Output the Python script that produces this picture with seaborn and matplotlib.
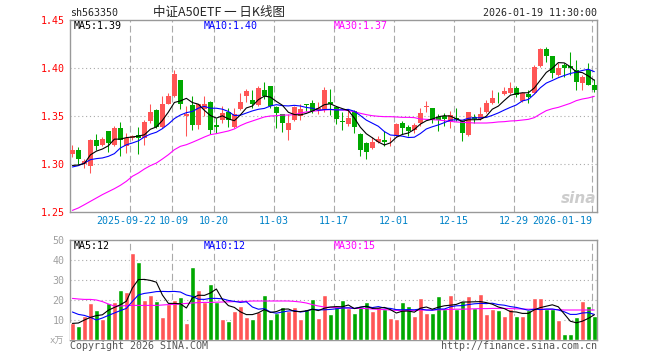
import numpy as np
import pandas as pd
import matplotlib
matplotlib.use("Agg")
import matplotlib.pyplot as plt
import matplotlib.transforms as mtrans
import seaborn as sns

W, H = 660, 360

RED = "#ff5555"
GREEN = "#00a800"
GRID = "#aaaaaa"
FRAME = "#999999"
TICK_BLUE = "#0082c8"
MA_COLORS = ["black", "#0000ff", "#ff00ff"]

# daily K-line, values
open_ = [1.310, 1.315, 1.300, 1.298, 1.325, 1.320, 1.334, 1.320, 1.3375, 1.319,
         1.327, 1.330, 1.327, 1.345, 1.3565, 1.339, 1.363, 1.3705, 1.387, 1.350,
         1.361, 1.341, 1.357, 1.3645, 1.341, 1.3455, 1.354, 1.3385, 1.357, 1.371,
         1.367, 1.361, 1.377, 1.381, 1.359, 1.3525, 1.335, 1.346, 1.3503, 1.3625,
         1.364, 1.355, 1.3566, 1.365, 1.3594, 1.345, 1.342, 1.355, 1.3316, 1.322,
         1.3167, 1.3226, 1.3247, 1.325, 1.329, 1.343, 1.3385, 1.3358, 1.3424, 1.359,
         1.358, 1.3493, 1.350, 1.3441, 1.3476, 1.345, 1.3302, 1.3493, 1.3465, 1.3545,
         1.3632, 1.3712, 1.3729, 1.3736, 1.3788, 1.366, 1.3729, 1.3743, 1.4021, 1.4194,
         1.4125, 1.3927, 1.4031, 1.4021, 1.3979, 1.384, 1.3979, 1.3823]
high = [1.320, 1.318, 1.305, 1.326, 1.331, 1.328, 1.334, 1.340, 1.344, 1.332,
        1.330, 1.339, 1.346, 1.363, 1.357, 1.371, 1.374, 1.398, 1.387, 1.360,
        1.3705, 1.362, 1.371, 1.366, 1.348, 1.360, 1.358, 1.358, 1.374, 1.378,
        1.377, 1.381, 1.385, 1.381, 1.360, 1.3525, 1.3525, 1.360, 1.362, 1.363,
        1.367, 1.365, 1.380, 1.378, 1.360, 1.354, 1.356, 1.356, 1.332, 1.3226,
        1.328, 1.329, 1.3347, 1.328, 1.3427, 1.3444, 1.341, 1.343, 1.358, 1.366,
        1.358, 1.352, 1.3528, 1.3555, 1.358, 1.345, 1.3545, 1.352, 1.3597, 1.3667,
        1.377, 1.3753, 1.3806, 1.3858, 1.3813, 1.3753, 1.377, 1.4031, 1.4205, 1.4215,
        1.4125, 1.4049, 1.4049, 1.417, 1.4083, 1.3927, 1.4049, 1.3882]
low = [1.307, 1.300, 1.296, 1.291, 1.315, 1.319, 1.313, 1.319, 1.308, 1.311,
       1.325, 1.310, 1.320, 1.343, 1.338, 1.338, 1.362, 1.370, 1.357, 1.3295,
       1.335, 1.336, 1.350, 1.3316, 1.332, 1.343, 1.339, 1.337, 1.356, 1.365,
       1.358, 1.360, 1.368, 1.358, 1.338, 1.333, 1.3247, 1.345, 1.346, 1.355,
       1.3535, 1.352, 1.354, 1.3507, 1.3413, 1.335, 1.340, 1.3323, 1.3087, 1.3052,
       1.316, 1.322, 1.319, 1.319, 1.328, 1.3316, 1.3295, 1.332, 1.3396, 1.3545,
       1.3424, 1.3347, 1.3396, 1.338, 1.345, 1.3243, 1.3292, 1.343, 1.3458, 1.3535,
       1.3625, 1.3639, 1.3719, 1.3729, 1.3694, 1.3649, 1.3632, 1.3736, 1.4014, 1.4066,
       1.3892, 1.3917, 1.391, 1.3927, 1.377, 1.377, 1.3819, 1.3753]
close = [1.315, 1.305, 1.303, 1.325, 1.319, 1.326, 1.322, 1.3375, 1.325, 1.327,
         1.329, 1.327, 1.344, 1.354, 1.339, 1.363, 1.3705, 1.394, 1.362, 1.3525,
         1.341, 1.362, 1.362, 1.335, 1.339, 1.353, 1.346, 1.3525, 1.365, 1.3757,
         1.363, 1.379, 1.371, 1.360, 1.353, 1.343, 1.3427, 1.359, 1.3576, 1.361,
         1.355, 1.358, 1.3774, 1.362, 1.347, 1.344, 1.348, 1.3385, 1.3142, 1.313,
         1.3226, 1.3264, 1.3226, 1.3255, 1.342, 1.3375, 1.334, 1.341, 1.3528, 1.3604,
         1.3458, 1.3458, 1.3465, 1.351, 1.3465, 1.332, 1.3545, 1.3465, 1.352, 1.3639,
         1.3684, 1.3705, 1.3764, 1.3788, 1.3719, 1.3736, 1.3701, 1.4014, 1.4194, 1.4125,
         1.3951, 1.3997, 1.3997, 1.3997, 1.3858, 1.391, 1.3823, 1.3771]

ma5 = [1.2985, 1.2990, 1.3005, 1.3095, 1.3134, 1.3156, 1.3190, 1.3259, 1.3259, 1.3275,
       1.3281, 1.3291, 1.3304, 1.3362, 1.3386, 1.3454, 1.3541, 1.3641, 1.3657, 1.3684,
       1.3640, 1.3623, 1.3559, 1.3505, 1.3478, 1.3502, 1.3470, 1.3451, 1.3511, 1.3584,
       1.3604, 1.3670, 1.3707, 1.3697, 1.3652, 1.3612, 1.3539, 1.3515, 1.3511, 1.3527,
       1.3551, 1.3581, 1.3618, 1.3627, 1.3599, 1.3577, 1.3557, 1.3479, 1.3383, 1.3315,
       1.3273, 1.3229, 1.3198, 1.3220, 1.3278, 1.3308, 1.3323, 1.3360, 1.3415, 1.3451,
       1.3468, 1.3492, 1.3503, 1.3499, 1.3471, 1.3444, 1.3461, 1.3461, 1.3463, 1.3498,
       1.3571, 1.3603, 1.3662, 1.3716, 1.3732, 1.3742, 1.3742, 1.3792, 1.3873, 1.3954,
       1.3997, 1.4056, 1.4053, 1.4013, 1.3960, 1.3952, 1.3917, 1.3872]
ma10 = [1.2969, 1.2983, 1.3010, 1.3045, 1.3056, 1.3063, 1.3080, 1.3108, 1.3167, 1.3200,
        1.3219, 1.3241, 1.3282, 1.3311, 1.3331, 1.3368, 1.3416, 1.3473, 1.3510, 1.3535,
        1.3547, 1.3582, 1.3600, 1.3581, 1.3581, 1.3571, 1.3547, 1.3505, 1.3508, 1.3531,
        1.3553, 1.3570, 1.3579, 1.3604, 1.3618, 1.3608, 1.3605, 1.3611, 1.3604, 1.3589,
        1.3581, 1.3560, 1.3567, 1.3569, 1.3563, 1.3564, 1.3569, 1.3549, 1.3505, 1.3457,
        1.3425, 1.3393, 1.3338, 1.3302, 1.3297, 1.3290, 1.3276, 1.3279, 1.3317, 1.3365,
        1.3388, 1.3407, 1.3431, 1.3457, 1.3461, 1.3456, 1.3476, 1.3482, 1.3481, 1.3485,
        1.3507, 1.3532, 1.3562, 1.3590, 1.3615, 1.3657, 1.3672, 1.3727, 1.3794, 1.3843,
        1.3870, 1.3899, 1.3922, 1.3943, 1.3957, 1.3974, 1.3987, 1.3962]
ma30 = [1.2517, 1.2542, 1.2576, 1.2611, 1.2646, 1.2681, 1.2712, 1.2743, 1.2778, 1.2820,
        1.2872, 1.2906, 1.2948, 1.2983, 1.3010, 1.3052, 1.3097, 1.3149, 1.3184, 1.3201,
        1.3226, 1.3253, 1.3281, 1.3306, 1.3316, 1.3330, 1.3344, 1.3365, 1.3400, 1.3427,
        1.3448, 1.3469, 1.3490, 1.3500, 1.3503, 1.3510, 1.3510, 1.3514, 1.3531, 1.3542,
        1.3549, 1.3556, 1.3563, 1.3566, 1.3566, 1.3563, 1.3556, 1.3545, 1.3528, 1.3514,
        1.3503, 1.3497, 1.3493, 1.3493, 1.3490, 1.3486, 1.3486, 1.3483, 1.3469, 1.3465,
        1.3462, 1.3458, 1.3451, 1.3444, 1.3438, 1.3434, 1.3431, 1.3427, 1.3427, 1.3427,
        1.3431, 1.3438, 1.3441, 1.3448, 1.3451, 1.3458, 1.3465, 1.3483, 1.3521, 1.3556,
        1.3576, 1.3590, 1.3611, 1.3632, 1.3660, 1.3677, 1.3688, 1.3705]

# volume (万)
volume = [8.3, 7.0, 12.0, 18.7, 15.0, 10.5, 18.3, 19.2, 25.0, 24.0,
          43.7, 39.0, 20.0, 22.5, 19.5, 11.7, 17.8, 20.0, 21.7, 8.7,
          36.7, 25.0, 19.2, 28.0, 18.8, 10.5, 9.5, 14.5, 17.2, 11.7,
          10.5, 14.0, 22.5, 10.5, 13.3, 16.5, 14.5, 16.5, 10.3, 15.3,
          20.5, 11.0, 22.5, 13.0, 16.3, 20.0, 15.8, 13.5, 16.3, 19.0,
          14.5, 16.3, 15.3, 11.0, 10.3, 19.0, 17.0, 12.0, 21.0, 13.5,
          13.5, 22.0, 15.3, 22.5, 15.5, 19.5, 22.0, 15.8, 23.0, 13.0,
          15.5, 15.0, 12.0, 15.5, 12.0, 12.0, 15.0, 21.0, 21.0, 15.5,
          15.5, 10.0, 3.0, 3.0, 11.5, 19.5, 17.0, 12.0]
vma5 = [8.3, 8.5, 10.0, 11.3, 12.2, 12.6, 14.9, 16.3, 17.6, 19.4,
        26.0, 30.2, 30.3, 29.8, 28.9, 22.5, 18.3, 18.3, 18.1, 16.0,
        21.0, 22.4, 22.3, 23.5, 25.5, 20.3, 17.2, 16.3, 14.1, 12.7,
        12.7, 13.6, 15.2, 13.8, 14.2, 15.4, 15.5, 14.3, 14.2, 14.6,
        15.4, 14.7, 15.9, 16.5, 16.7, 16.6, 17.5, 15.7, 16.4, 16.9,
        15.8, 15.9, 16.3, 15.2, 13.5, 14.4, 14.5, 13.9, 15.9, 16.5,
        15.4, 16.4, 17.1, 17.4, 17.8, 19.0, 19.0, 19.1, 19.2, 18.7,
        17.9, 16.5, 15.7, 14.2, 14.0, 13.3, 13.3, 15.1, 16.2, 16.9,
        17.6, 16.6, 13.0, 9.4, 8.6, 9.4, 10.8, 12.6]
vma10 = [14.0, 12.8, 12.3, 11.3, 10.0, 11.0, 12.3, 13.5, 14.7, 15.8,
         19.3, 22.5, 23.3, 23.7, 24.2, 24.3, 24.2, 24.3, 24.0, 22.5,
         21.8, 20.4, 20.3, 20.8, 20.8, 20.6, 19.8, 19.3, 18.8, 19.1,
         16.5, 15.4, 15.7, 14.0, 13.4, 14.0, 14.5, 14.7, 14.0, 14.4,
         15.4, 15.1, 15.1, 15.3, 15.6, 16.0, 16.1, 15.8, 16.4, 16.8,
         16.2, 16.7, 16.0, 15.8, 15.2, 15.1, 15.2, 15.1, 15.5, 15.0,
         14.9, 15.5, 15.5, 16.6, 17.1, 17.2, 17.7, 18.1, 18.3, 18.2,
         18.4, 17.7, 17.4, 16.7, 16.3, 15.6, 14.9, 15.4, 15.2, 15.5,
         15.5, 15.0, 14.1, 12.8, 12.8, 13.5, 13.7, 12.8]
vma30 = [20.8, 20.5, 20.3, 20.3, 20.0, 19.2, 18.0, 17.0, 17.0, 17.2,
         17.3, 17.3, 17.3, 17.3, 17.3, 17.5, 17.7, 17.8, 18.0, 18.3,
         18.5, 18.7, 18.8, 18.8, 18.9, 19.0, 19.1, 19.2, 19.3, 19.3,
         19.5, 19.5, 19.5, 19.5, 19.5, 19.5, 19.5, 19.3, 19.0, 18.5,
         17.7, 17.0, 16.5, 16.3, 16.2, 16.0, 16.0, 15.8, 15.8, 15.7,
         15.5, 15.3, 15.2, 15.0, 14.8, 14.7, 14.7, 14.7, 15.0, 15.0,
         15.0, 15.1, 15.2, 15.3, 15.4, 15.4, 15.5, 15.6, 15.7, 15.7,
         15.8, 15.8, 15.8, 15.7, 15.6, 15.5, 15.4, 15.4, 15.3, 15.3,
         15.3, 15.2, 15.0, 15.0, 15.0, 15.0, 15.0, 15.0]

tick_idx = [10, 17, 24, 34, 44, 54, 64, 74, 87]
tick_labels = ["2025-09-22", "10-09", "10-20", "11-03", "11-17",
               "12-01", "12-15", "12-29", "2026-01-19"]
price_ticks = [1.25, 1.30, 1.35, 1.40, 1.45]
vol_ticks = [10, 20, 30, 40, 50]
price_ma_text = ["MA5:1.39", "MA10:1.40", "MA30:1.37"]
vol_ma_text = ["MA5:12", "MA10:12", "MA30:15"]

sns.set_style("white")
plt.rcParams["font.family"] = ["DejaVu Sans Mono", "Noto Sans CJK SC"]
FS = 7.2

fig = plt.figure(figsize=(W / 100, H / 100), dpi=100)


def box(l, t, r, b):
    return [l / W, 1 - b / H, (r - l) / W, (b - t) / H]


def fpos(x, y):
    return x / W, 1 - y / H


ax = fig.add_axes(box(70, 20, 597, 212))
axv = fig.add_axes(box(70, 240, 597, 340))

idx = np.arange(len(close))
up = np.array(close) >= np.array(open_)
colors = np.where(up, RED, GREEN)

# --- price panel ---
ax.vlines(idx, low, high, colors=colors, lw=0.75, zorder=3)
body_lo = np.minimum(open_, close)
body_h = np.maximum(np.abs(np.array(close) - np.array(open_)), 0.0004)
ax.bar(idx, body_h, bottom=body_lo, width=0.8, color=colors, lw=0, zorder=4)

pdf = pd.DataFrame({"i": idx, "ma5": ma5, "ma10": ma10, "ma30": ma30})
for col, c in zip(["ma30", "ma10", "ma5"], MA_COLORS[::-1]):
    sns.lineplot(data=pdf, x="i", y=col, ax=ax, color=c, lw=0.8, zorder=5)

# --- volume panel ---
vdf = pd.DataFrame({"i": idx, "vol": volume,
                    "dir": np.where(up, "up", "down"),
                    "vma5": vma5, "vma10": vma10, "vma30": vma30})
sns.barplot(data=vdf, x="i", y="vol", hue="dir", palette={"up": RED, "down": GREEN},
            dodge=False, width=0.8, saturation=1, legend=False, ax=axv, zorder=3)
for col, c in zip(["vma30", "vma10", "vma5"], MA_COLORS[::-1]):
    sns.lineplot(data=vdf, x="i", y=col, ax=axv, color=c, lw=0.8, zorder=5)

for a in (ax, axv):
    a.set_xlim(-0.4, 87.45)
    a.set_xticks([])
    a.set_xlabel("")
    a.set_ylabel("")
    for t in tick_idx:
        a.axvline(t - 0.4, color=GRID, lw=0.8, ls=(0, (6, 3)), zorder=1)
    for s in a.spines.values():
        s.set_color(FRAME)
        s.set_linewidth(1.0)
    a.tick_params(axis="y", length=0, pad=4, labelsize=FS)

ax.set_ylim(1.25, 1.45)
ax.set_yticks(price_ticks)
ax.set_yticklabels([f"{v:.2f}" for v in price_ticks], color="red")
for v in price_ticks[1:-1]:
    ax.axhline(v, color=GRID, lw=0.8, ls=(0, (1, 2.5)), zorder=1)

axv.set_ylim(0, 50)
axv.set_yticks(vol_ticks)
axv.set_yticklabels([str(v) for v in vol_ticks], color="#a0a0a0")
for v in vol_ticks[:-1]:
    axv.axhline(v, color=GRID, lw=0.8, ls=(0, (1, 2.5)), zorder=1)

# date labels under price panel (first two nudged apart, last one right-aligned)
trans = mtrans.blended_transform_factory(ax.transData, ax.transAxes)
nudge = {0: -4, 1: 2}
for k, (t, lab) in enumerate(zip(tick_idx, tick_labels)):
    ha = "right" if k == len(tick_idx) - 1 else "center"
    off = mtrans.ScaledTranslation(nudge.get(k, 0) / 100, 0, fig.dpi_scale_trans)
    ax.text(t - 0.4, -0.047, lab, transform=trans + off, ha=ha, va="center",
            color=TICK_BLUE, fontsize=FS)

# MA legends
for txt, c, x in zip(price_ma_text, MA_COLORS, [74, 204, 334]):
    fig.text(*fpos(x, 26), txt, color=c, fontsize=FS, ha="left", va="center")
for txt, c, x in zip(vol_ma_text, MA_COLORS, [74, 204, 334]):
    fig.text(*fpos(x, 246), txt, color=c, fontsize=FS, ha="left", va="center")

# header / footer
fig.text(*fpos(70, 13), "sh563350", fontsize=FS, ha="left", va="center")
fig.text(*fpos(219, 12), "中证A50ETF 一 日K线图", fontsize=9, ha="center", va="center",
         family=["Noto Sans CJK SC", "DejaVu Sans"])
fig.text(*fpos(597, 12.5), "2026-01-19 11:30:00", fontsize=FS, ha="right", va="center")
fig.text(*fpos(64, 341), "x万", fontsize=6.5, ha="right", va="center", color="#a0a0a0")
fig.text(*fpos(70, 346), "Copyright 2026 SINA.COM", fontsize=FS, ha="left",
         va="center", color="#555555")
fig.text(*fpos(597, 346), "http://finance.sina.com.cn", fontsize=FS, ha="right",
         va="center", color="#555555")
fig.text(*fpos(596, 198), "sina", fontsize=11, ha="right", va="center", color="#cccccc",
         style="italic", weight="bold", family="DejaVu Sans")

fig.savefig("out.png", dpi=100, facecolor="white")
